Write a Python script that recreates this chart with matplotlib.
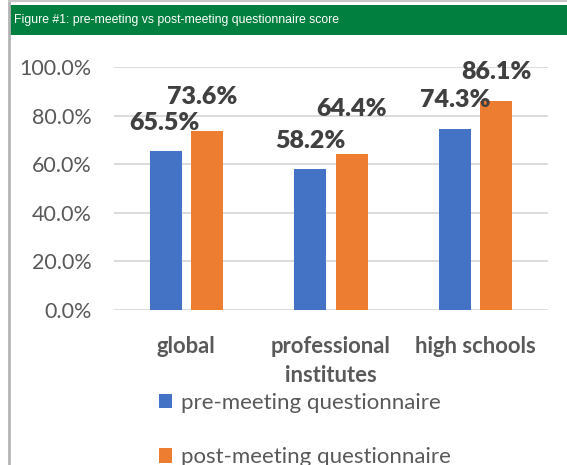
import matplotlib.pyplot as plt
import numpy as np
from matplotlib.patches import Rectangle

# data
categories = ['global', 'professional\ninstitutes', 'high schools']
pre_meeting = [65.5, 58.2, 74.3]
post_meeting = [73.6, 64.4, 86.1]
series_names = ['pre-meeting questionnaire', 'post-meeting questionnaire']
title = 'Figure #1: pre-meeting vs post-meeting questionnaire score'

blue = '#4472C4'
orange = '#ED7D31'
green = '#007F3F'
grey_txt = '#595959'

plt.rcParams['font.family'] = ['Lato', 'DejaVu Sans']

W, H = 567, 465
fig = plt.figure(figsize=(W / 100, H / 100), dpi=100)

# frame: header band and left border
fig.patches.append(Rectangle((10 / W, 1 - 35 / H), 1, 30 / H, transform=fig.transFigure,
                             facecolor=green, edgecolor='none', zorder=0))
fig.add_artist(plt.Line2D([9 / W, 9 / W], [0, 1], transform=fig.transFigure,
                          color='#B3B3B3', lw=2))
fig.add_artist(plt.Line2D([9 / W, 1], [1 - 1 / H, 1 - 1 / H], transform=fig.transFigure,
                          color='#C8C8C8', lw=1.5))
fig.text(14 / W, 1 - 20 / H, title, color='white', fontsize=8.8,
         family=['Liberation Sans'], va='center', ha='left')

# axes: x 114..548, y 67..310 px
ax = fig.add_axes([114 / W, 1 - 310 / H, 434 / W, 243 / H])
x = np.arange(len(categories))
w = 0.22
off = 0.143
b1 = ax.bar(x - off, pre_meeting, w, color=blue, label=series_names[0], zorder=3)
b2 = ax.bar(x + off, post_meeting, w, color=orange, label=series_names[1], zorder=3)

ax.set_xlim(-0.5, 2.5)
ax.set_ylim(0, 100)
ax.set_yticks(np.arange(0, 101, 20))
ax.set_yticklabels([f'{v:.1f}%' for v in np.arange(0, 101, 20)])
ax.yaxis.grid(True, color='#D9D9D9', lw=1.3, zorder=0)
for s in ax.spines.values():
    s.set_visible(False)
ax.tick_params(axis='y', length=0, pad=16, labelsize=15.5, labelcolor=grey_txt)
ax.set_xticks(x)
ax.set_xticklabels(categories, fontweight='bold', fontsize=15.8, color=grey_txt,
                   linespacing=1.45, va='top')
ax.tick_params(axis='x', length=0, pad=19)

# data labels (Excel placed them a bit irregularly)
pre_off = [(-1, 28), (0, 28), (0, 29)]
post_off = [(-5, 34), (0, 45), (0, 29)]
for bars, offs in ((b1, pre_off), (b2, post_off)):
    for r, (dx, dy) in zip(bars, offs):
        ax.annotate(f'{r.get_height():.1f}%', (r.get_x() + r.get_width() / 2, r.get_height()),
                    xytext=(dx * 0.72, dy * 0.72), textcoords='offset points',
                    ha='center', va='center', fontsize=18, fontweight='heavy', color='#404040',
                    zorder=5)

fig.legend(handles=[b1, b2], labels=series_names, loc='upper left',
           bbox_to_anchor=(150 / W, 1 - 384 / H), frameon=False, fontsize=16,
           labelcolor=grey_txt, handlelength=0.6, handleheight=0.6, handletextpad=0.4,
           labelspacing=1.55, borderaxespad=0)

fig.savefig('out.png', dpi=100)
